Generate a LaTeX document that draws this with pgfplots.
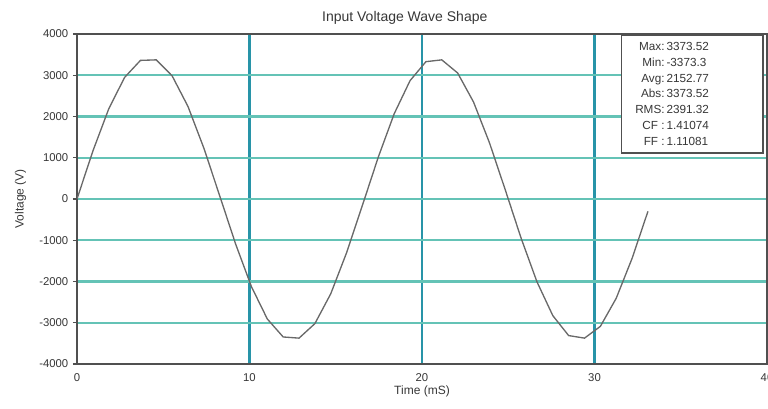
\documentclass[border=0pt]{standalone}
\usepackage{pgfplots}
\pgfplotsset{compat=1.18}
\usepackage{fontspec}
\setmainfont{Liberation Sans}

\definecolor{hgrid}{RGB}{100,195,182}
\definecolor{vgrid}{RGB}{40,148,168}
\definecolor{frame}{RGB}{80,80,80}
\definecolor{wave}{RGB}{105,105,105}
\definecolor{txt}{RGB}{55,55,55}

\begin{document}
\begin{tikzpicture}
\begin{axis}[
  name=ax,
  scale only axis,
  width=517.5pt, height=247.5pt,
  xmin=0, xmax=40, ymin=-4000, ymax=4000,
  xtick={0,10,20,30,40},
  ytick={-4000,-3000,-2000,-1000,0,1000,2000,3000,4000},
  xmajorgrids, ymajorgrids,
  x grid style={vgrid, line width=1.6pt},
  y grid style={hgrid, line width=1.6pt},
  axis line style={frame, line width=1.1pt},
  tick style={frame, line width=0.8pt},
  tick align=outside,
  major tick length=3pt,
  xtick style={draw=none},
  scaled ticks=false,
  /pgf/number format/assume math mode=true,
  /pgf/number format/1000 sep={},
  tick label style={font=\fontsize{8.5}{9}\selectfont, text=txt},
  xticklabel style={yshift=-1pt},
  title={Input Voltage Wave Shape},
  title style={font=\fontsize{10.5}{12}\selectfont, text=txt, at={(rel axis cs:0.475,1)}, yshift=-2pt},
  xlabel={Time (mS)},
  ylabel={Voltage (V)},
  label style={font=\fontsize{9}{10}\selectfont, text=txt},
  xlabel style={at={(axis cs:20,-4000)}, anchor=north, yshift=-13pt},
  ylabel style={yshift=3pt},
]
\addplot[wave, line width=1pt] coordinates {
 (0.000,0) (0.919,1161) (1.839,2184) (2.758,2947) (3.678,3360) (4.597,3373)
 (5.516,2985) (6.436,2241) (7.355,1232) (8.275,75) (9.194,-1090) (10.113,-2126)
 (11.033,-2909) (11.952,-3345) (12.872,-3373) (13.791,-3021) (14.710,-2298)
 (15.630,-1301) (16.549,-150) (17.469,1019) (18.388,2066) (19.307,2869)
 (20.227,3329) (21.146,3373) (22.066,3055) (22.985,2353) (23.904,1371)
 (24.824,225) (25.743,-947) (26.663,-2006) (27.582,-2827) (28.501,-3311)
 (29.421,-3373) (30.340,-3088) (31.260,-2406) (32.179,-1439) (33.098,-300)
};
\draw[frame, line width=0.9pt, fill=white] (axis cs:31.55,3975) rectangle (axis cs:39.77,1115);
\node[anchor=north, text=txt, font=\fontsize{8.8}{11.9}\selectfont, inner sep=0pt]
  at (axis cs:34.5,3880) {%
  \begin{tabular}{@{}r@{\,}l@{}}
  Max: & 3373.52\\
  Min: & -3373.3\\
  Avg: & 2152.77\\
  Abs: & 3373.52\\
  RMS: & 2391.32\\
  CF : & 1.41074\\
  FF : & 1.11081
  \end{tabular}};
\end{axis}
\pgfresetboundingbox
\path[use as bounding box] ([xshift=-57.75pt,yshift=-33.75pt]ax.south west) rectangle ([xshift=0.75pt,yshift=25.5pt]ax.north east);
\end{tikzpicture}
\end{document}
